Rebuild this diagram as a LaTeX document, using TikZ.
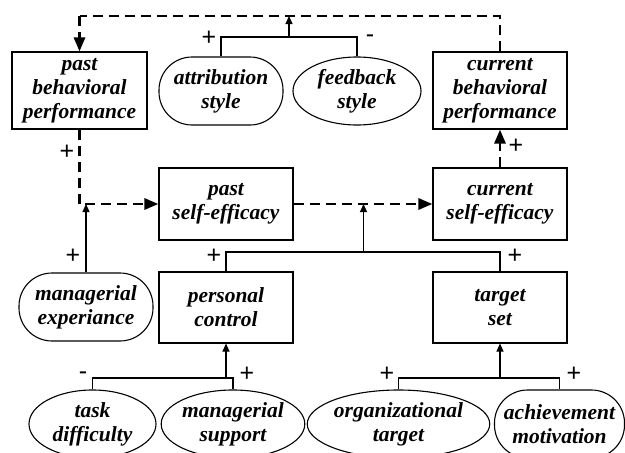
\documentclass[tikz,border=0pt]{standalone}
\usepackage{fontspec}
\setmainfont{Liberation Serif}
\newfontfamily\signfont{Liberation Sans}
\usetikzlibrary{arrows.meta,shapes.geometric}
\begin{document}
\begin{tikzpicture}[x=1pt,y=-1pt,
  every node/.style={inner sep=0pt,align=center,font=\bfseries\itshape\fontsize{21.5}{24}\selectfont},
  boxnode/.style={draw,line width=1.1pt,rectangle},
  pillnode/.style={draw,line width=1.1pt,rectangle,rounded corners=33pt},
  ovalnode/.style={draw,line width=1.1pt,ellipse},
  thinline/.style={line width=1.1pt},
  thinarrow/.style={line width=1.1pt,-{Triangle[length=8pt,width=7pt]}},
  dashline/.style={line width=2.8pt,dash pattern=on 10pt off 6pt,-{Triangle[length=14pt,width=11pt]}},
  dashplain/.style={line width=2.8pt,dash pattern=on 10pt off 6pt},
  sign/.style={font=\signfont\fontsize{25}{25}\selectfont}]
\clip (0,0) rectangle (625,453);
\fill[white] (0,0) rectangle (625,453);
% top row
\node[boxnode,minimum width=135pt,minimum height=77pt] (pbp) at (79.5,90.5) {past\\behavioral\\performance};
\node[pillnode,minimum width=124pt,minimum height=68pt] (attr) at (221,91) {attribution\\style};
\node[ovalnode,minimum width=128pt,minimum height=68pt] (fb) at (357,91) {feedback\\style};
\node[boxnode,minimum width=134pt,minimum height=77pt] (cbp) at (500,90.5) {current\\behavioral\\performance};
% middle row
\node[boxnode,minimum width=134pt,minimum height=72pt] (pse) at (226,204) {past\\self-efficacy};
\node[boxnode,minimum width=134pt,minimum height=72pt] (cse) at (500,204) {current\\self-efficacy};
% third row
\node[pillnode,minimum width=134pt,minimum height=68pt] (mexp) at (86,307) {managerial\\experiance};
\node[boxnode,minimum width=134pt,minimum height=71pt] (pc) at (226,307.5) {personal\\control};
\node[boxnode,minimum width=134pt,minimum height=71pt] (ts) at (500,307.5) {target\\set};
% bottom row
\node[ovalnode,minimum width=127pt,minimum height=68pt] (td) at (92.5,424) {task\\difficulty};
\node[ovalnode,minimum width=142pt,minimum height=68pt] (ms) at (233,424) {managerial\\support};
\node[ovalnode,minimum width=177pt,minimum height=68pt] (ot) at (398.5,424) {organizational\\target};
\node[pillnode,minimum width=130pt,minimum height=68pt] (am) at (559.5,424) {achievement\\motivation};
% coordinates
\coordinate (tl) at (79.5,16);
\coordinate (tr) at (500,16);
\coordinate (j1) at (289,37);
\coordinate (j2) at (363.5,252);
\coordinate (j3) at (226,378);
\coordinate (j4) at (500,378);
% dashed connectors
\draw[dashplain] (cbp.north) -- (tr) -- (tl);
\draw[dashline] (tl) -- (pbp.north);
\draw[dashline] (pbp.south) |- (pse.west);
\draw[dashline] (pse.east) -- (cse.west);
\draw[dashline] (cse.north) -- (cbp.south);
% thin connectors
\draw[thinline] (attr.north) |- (j1) -| (fb.north);
\draw[thinarrow] (j1) -- (j1 |- tl);
\draw[thinline] (pc.north) |- (j2) -| (ts.north);
\draw[thinarrow] (j2) -- (j2 |- pse.east);
\draw[thinarrow] (mexp.north) -- (mexp.north |- pse.west);
\draw[thinline] (td.north) |- (ms.north |- j3) -- (ms.north);
\draw[thinarrow] (j3) -- (pc.south);
\draw[thinline] (ot.north) |- (am.north |- j4) -- (am.north);
\draw[thinarrow] (j4) -- (ts.south);
% signs
\node[sign] (s1) at (209,38) {+};
\node[sign] (s2) at (370,39) {-};
\node[sign] (s3) at (67,152) {+};
\node[sign] (s4) at (516,146) {+};
\node[sign] (s5) at (73,256) {+};
\node[sign] (s6) at (214,256) {+};
\node[sign] (s7) at (515,256) {+};
\node[sign] (s8) at (83,376) {-};
\node[sign] (s9) at (247,374) {+};
\node[sign] (s10) at (387,374) {+};
\node[sign] (s11) at (574,374) {+};
\end{tikzpicture}
\end{document}
